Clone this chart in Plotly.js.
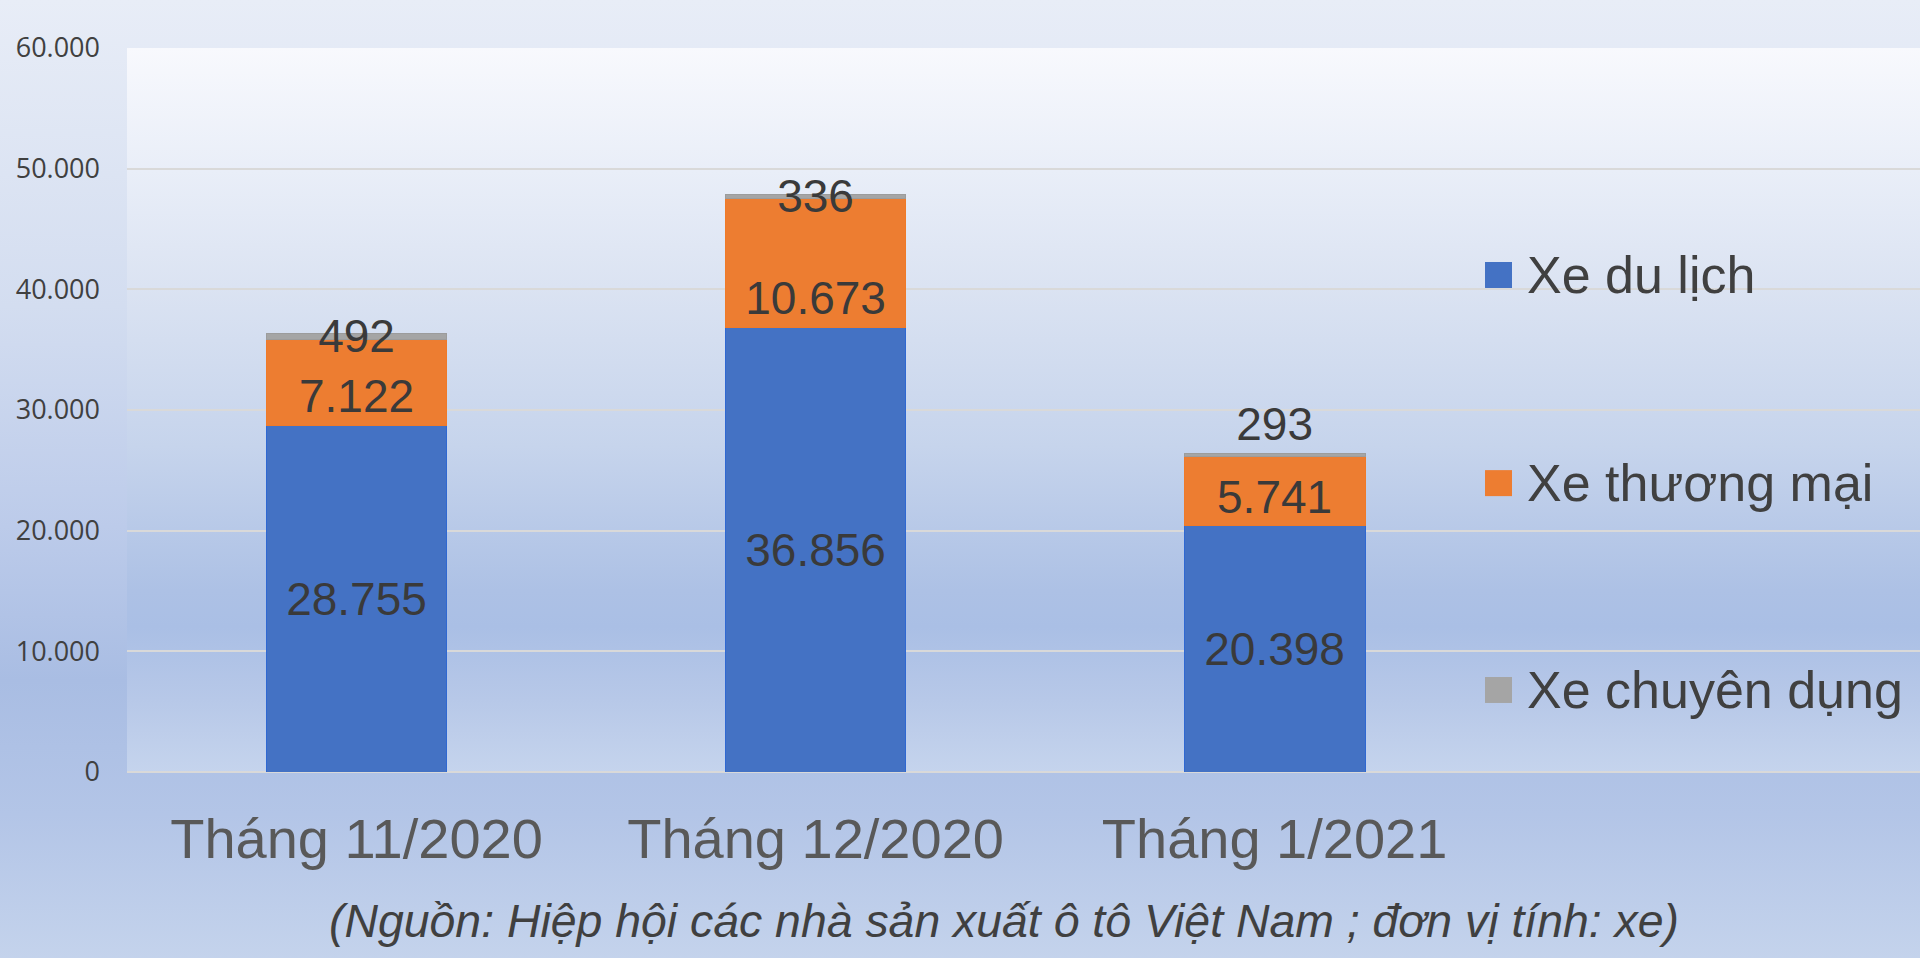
<!DOCTYPE html>
<html>
<head>
<meta charset="utf-8">
<script src="https://cdn.plot.ly/plotly-3.0.1.min.js"></script>
<style>
html, body { margin:0; padding:0; width:1920px; height:958px; overflow:hidden; }
body { background: linear-gradient(to bottom, #e8edf7 0%, #d3ddf0 32%, #bccbea 55%, #a9bde3 71%, #b3c5e7 85%, #c4d3ec 100%); }
#plotbg { position:absolute; left:127px; top:48px; width:1793px; height:724px;
  background: linear-gradient(to bottom, #f8f9fd 0%, #e9eef8 17%, #dbe3f2 33%, #c6d4ec 55%, #adc1e5 75%, #aabfe5 80%, #b7c8e8 90%, #c5d4ed 100%); }
#chart { position:absolute; left:0; top:0; width:1920px; height:958px; }
</style>
</head>
<body>
<div id="plotbg"></div>
<div id="chart"></div>
<script>
// ---- data ----
const categories = ['Tháng 11/2020', 'Tháng 12/2020', 'Tháng 1/2021'];
const seriesNames = ['Xe du lịch', 'Xe thương mại', 'Xe chuyên dụng'];
const xeDuLich = [28755, 36856, 20398];
const xeThuongMai = [7122, 10673, 5741];
const xeChuyenDung = [492, 336, 293];
const yTickValues = [0, 10000, 20000, 30000, 40000, 50000, 60000];
const sourceNote = '(Nguồn: Hiệp hội các nhà sản xuất ô tô Việt Nam ; đơn vị tính: xe)';

// ---- styles ----
const colors = ['#4472C4', '#ED7D31', '#A5A5A5'];
const lineColors = ['#2f68d2', '#f07a28', '#9c9c9c'];
const anchors = ['middle', 'start', 'middle'];
const positions = ['inside', 'inside', ['inside', 'inside', 'outside']];
const labelFont = 'Liberation Sans, Arial, sans-serif';

function fmt(v) { return String(v).replace(/\B(?=(\d{3})+(?!\d))/g, '.'); }

const series = [xeDuLich, xeThuongMai, xeChuyenDung];
const traces = series.map((vals, i) => ({
  type: 'bar',
  name: seriesNames[i],
  x: categories,
  y: vals,
  text: vals.map(fmt),
  textposition: positions[i],
  insidetextanchor: anchors[i],
  constraintext: 'none',
  cliponaxis: false,
  textfont: { family: labelFont, size: 46, color: '#3a3a3a' },
  insidetextfont: { family: labelFont, size: 46, color: '#3a3a3a' },
  outsidetextfont: { family: labelFont, size: 46, color: '#3a3a3a' },
  marker: { color: colors[i], line: { color: lineColors[i], width: 1 } },
  hoverinfo: 'x+y+name',
  showlegend: false
}));

// legend drawn as shapes + annotations (large square swatches)
const legendY = [0.6865, 0.399, 0.1133];
const shapes = seriesNames.map((n, i) => ({
  type: 'rect', xref: 'paper', yref: 'paper',
  xsizemode: 'pixel', ysizemode: 'pixel',
  xanchor: 0.7574, yanchor: legendY[i],
  x0: 0, x1: 27, y0: -13, y1: 13,
  fillcolor: colors[i], line: { width: 0 }
}));
const annotations = seriesNames.map((n, i) => ({
  xref: 'paper', yref: 'paper', x: 0.7795, y: legendY[i],
  xanchor: 'left', yanchor: 'middle', showarrow: false,
  text: n, font: { family: labelFont, size: 52, color: '#404040' }
}));
annotations.push({
  xref: 'paper', yref: 'paper', x: 0.489, y: -0.206,
  xanchor: 'center', yanchor: 'middle', showarrow: false,
  text: sourceNote,
  font: { family: labelFont, size: 46.4, color: '#404040', style: 'italic' }
});

const layout = {
  width: 1920, height: 958,
  margin: { l: 127, r: 0, t: 48, b: 186, pad: 0 },
  paper_bgcolor: 'rgba(0,0,0,0)',
  plot_bgcolor: 'rgba(0,0,0,0)',
  barmode: 'stack',
  bargap: 0.606,
  showlegend: false,
  xaxis: {
    type: 'category',
    range: [-0.5, 3.406],
    showgrid: false, zeroline: false, showline: false, ticks: '',
    tickfont: { family: labelFont, size: 56, color: '#595959' },
    ticklabelstandoff: 29,
    fixedrange: true
  },
  yaxis: {
    range: [0, 60000],
    tickvals: yTickValues,
    ticktext: yTickValues.map(fmt),
    showgrid: true, gridcolor: '#d9d9d9', gridwidth: 2,
    zeroline: true, zerolinecolor: '#d9d9d9', zerolinewidth: 2,
    showline: false, ticks: '',
    tickfont: { family: 'Open Sans, Noto Sans, sans-serif', size: 27, color: '#404040' },
    ticklabelstandoff: 26,
    fixedrange: true
  },
  shapes: shapes,
  annotations: annotations
};

Plotly.newPlot('chart', traces, layout, { displayModeBar: false, staticPlot: true });
</script>
</body>
</html>
